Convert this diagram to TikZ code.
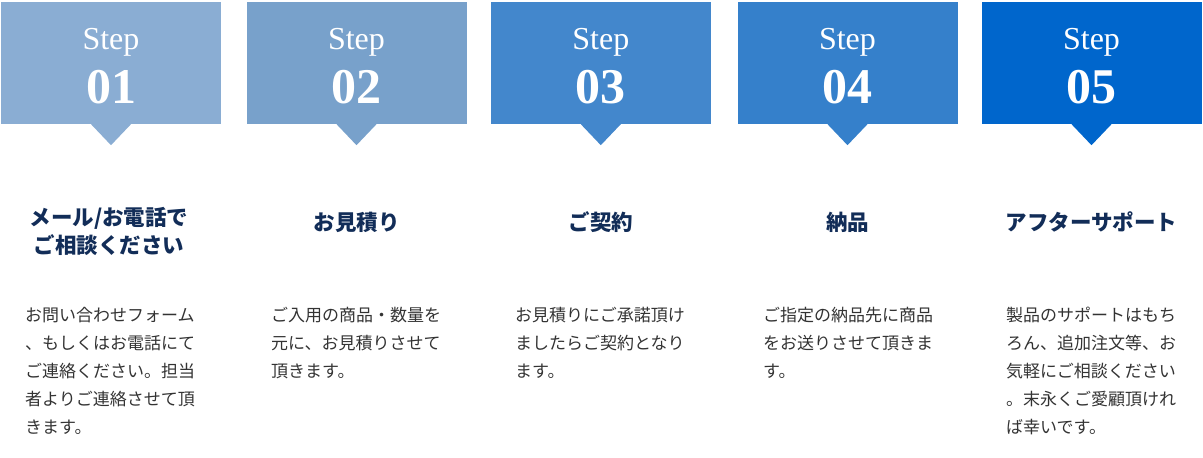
\documentclass[tikz,border=0pt]{standalone}
\usepackage{fontspec}
\setmainfont{Liberation Serif}
\newfontfamily\jpfont{Noto Sans CJK JP}
\newfontfamily\jpbody{Noto Sans CJK JP}
\definecolor{cA}{RGB}{138,173,211}
\definecolor{cB}{RGB}{120,161,203}
\definecolor{cC}{RGB}{67,135,204}
\definecolor{cD}{RGB}{53,128,203}
\definecolor{cE}{RGB}{0,102,204}
\definecolor{navy}{RGB}{18,45,88}
\definecolor{bodygray}{RGB}{51,51,51}
\tikzset{
  stepbox/.style={rectangle, minimum width=220pt, minimum height=122pt, inner sep=0pt, draw=none},
  steplabel/.style={anchor=base, inner sep=0pt, text=white, font=\fontsize{32}{32}\selectfont},
  stepnum/.style={anchor=base, inner sep=0pt, text=white, font=\fontsize{50}{50}\selectfont\bfseries},
  titletext/.style={anchor=base, inner sep=0pt, text=navy, font=\jpfont\bfseries\fontsize{21.5}{28}\selectfont},
  bodytext/.style={anchor=base west, inner sep=0pt, text=bodygray, font=\jpbody\fontsize{17}{28}\selectfont},
}
\newcommand\mkstep[5]{%
  \node[stepbox, fill=#3] (#1) at (#2,63) {};
  \fill[#3] ([xshift=-20pt]#1.south) -- ([xshift=20pt]#1.south) -- ([yshift=-21pt]#1.south) -- cycle;
  \node[steplabel] (#1lab) at (#2,49) {Step};
  \node[stepnum] (#1num) at (#2,103) {#4};
}
\begin{document}
\begin{tikzpicture}[x=1pt,y=-1pt]
\useasboundingbox (0,0) rectangle (1203,458);
\mkstep{sA}{111}{cA}{01}{}
\mkstep{sB}{356.5}{cB}{02}{}
\mkstep{sC}{600.8}{cC}{03}{}
\mkstep{sD}{847.5}{cD}{04}{}
\mkstep{sE}{1091.5}{cE}{05}{}

\node[titletext] (tA) at (109,225) {\parbox[t]{210pt}{\centering メール/お電話で\\ご相談ください}};
\node[titletext] (tB) at (356.5,230) {お見積り};
\node[titletext] (tC) at (600.8,230) {ご契約};
\node[titletext] (tD) at (847.5,230) {納品};
\node[titletext] (tE) at (1091.5,230) {アフターサポート};

\node[bodytext] (bA) at (25,321) {\parbox[t]{190pt}{\raggedright お問い合わせフォーム\\、もしくはお電話にて\\ご連絡ください。担当\\者よりご連絡させて頂\\きます。}};
\node[bodytext] (bB) at (271,321) {\parbox[t]{190pt}{\raggedright ご入用の商品・数量を\\元に、お見積りさせて\\頂きます。}};
\node[bodytext] (bC) at (515,321) {\parbox[t]{190pt}{\raggedright お見積りにご承諾頂け\\ましたらご契約となり\\ます。}};
\node[bodytext] (bD) at (763,321) {\parbox[t]{190pt}{\raggedright ご指定の納品先に商品\\をお送りさせて頂きま\\す。}};
\node[bodytext] (bE) at (1006,321) {\parbox[t]{190pt}{\raggedright 製品のサポートはもち\\ろん、追加注文等、お\\気軽にご相談ください\\。末永くご愛顧頂けれ\\ば幸いです。}};
\end{tikzpicture}
\end{document}
